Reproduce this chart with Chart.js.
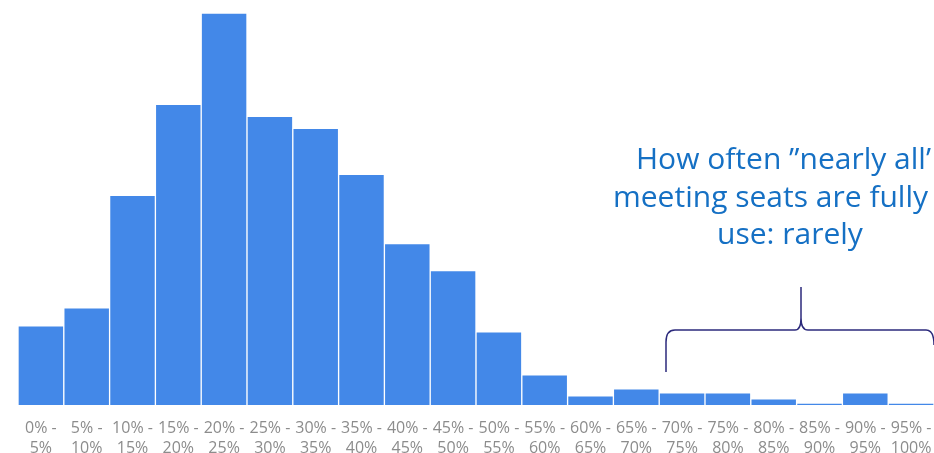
<!DOCTYPE html>
<html>
<head>
<meta charset="utf-8">
<script src="https://cdn.jsdelivr.net/npm/chart.js@4/dist/chart.umd.min.js"></script>
<style>
  html, body { margin: 0; padding: 0; background: #fff; }
  #wrap { width: 934px; height: 453px; position: relative; overflow: hidden; }
</style>
</head>
<body>
<div id="wrap"><canvas id="histChart" width="934" height="458"></canvas></div>
<script>
// Seat utilisation bins and how many meetings fall into each
const binStarts = ['0%', '5%', '10%', '15%', '20%', '25%', '30%', '35%', '40%', '45%',
                   '50%', '55%', '60%', '65%', '70%', '75%', '80%', '85%', '90%', '95%'];
const binEnds = ['5%', '10%', '15%', '20%', '25%', '30%', '35%', '40%', '45%', '50%',
                 '55%', '60%', '65%', '70%', '75%', '80%', '85%', '90%', '95%', '100%'];
const meetingCounts = [79, 97, 209, 300, 391, 288, 276, 230, 161, 134,
                       73, 30, 9, 16, 12, 12, 6, 2, 12, 2];

const annotationLines = ['How often \u201Dnearly all\u2019', 'meeting seats are fully', 'use: rarely'];

document.addEventListener('DOMContentLoaded', function() {
    const labels = binStarts.map((s, i) => [s + ' -', binEnds[i]]);

    // callout text + curly bracket over the top bins
    const calloutPlugin = {
        id: 'callout',
        afterDraw(chart) {
            const ctx = chart.ctx;
            ctx.save();
            ctx.fillStyle = '#1570c4';
            ctx.font = '30px "Open Sans", sans-serif';
            ctx.textAlign = 'left';
            ctx.textBaseline = 'alphabetic';
            const lineX = [636, 613, 717];
            const baselines = [169, 207, 244];
            annotationLines.forEach((line, i) => ctx.fillText(line, lineX[i], baselines[i]));

            // bracket
            ctx.strokeStyle = '#2c2a7c';
            ctx.lineWidth = 1.5;
            ctx.beginPath();
            ctx.moveTo(666, 372);
            ctx.lineTo(666, 342);
            ctx.quadraticCurveTo(666, 330, 675, 330);
            ctx.lineTo(795, 330);
            ctx.quadraticCurveTo(801, 330, 801, 318);
            ctx.lineTo(801, 287);
            ctx.moveTo(801, 318);
            ctx.quadraticCurveTo(801, 330, 808, 330);
            ctx.lineTo(926, 330);
            ctx.quadraticCurveTo(934, 330, 934, 345);
            ctx.stroke();
            ctx.restore();
        }
    };

    const ctx = document.getElementById('histChart').getContext('2d');
    new Chart(ctx, {
        type: 'bar',
        data: {
            labels: labels,
            datasets: [{
                data: meetingCounts,
                backgroundColor: '#4388e8',
                borderColor: '#ffffff',
                borderWidth: 1,
                borderSkipped: 'start',
                categoryPercentage: 1.0,
                barPercentage: 1.0
            }]
        },
        options: {
            responsive: false,
            animation: false,
            devicePixelRatio: 1,
            layout: { padding: { left: 18, right: 0, top: 13, bottom: 0 } },
            plugins: {
                legend: { display: false },
                tooltip: { enabled: false }
            },
            scales: {
                x: {
                    grid: {
                        display: true,
                        drawOnChartArea: false,
                        drawTicks: true,
                        tickLength: 14,
                        color: 'rgba(0,0,0,0)'
                    },
                    border: { display: false },
                    ticks: {
                        color: '#8c8c8c',
                        font: { family: '"Open Sans", sans-serif', size: 16, lineHeight: 1.22 },
                        padding: 0,
                        maxRotation: 0,
                        autoSkip: false
                    }
                },
                y: {
                    display: false,
                    beginAtZero: true,
                    max: 391
                }
            }
        },
        plugins: [calloutPlugin]
    });
});
</script>
</body>
</html>
